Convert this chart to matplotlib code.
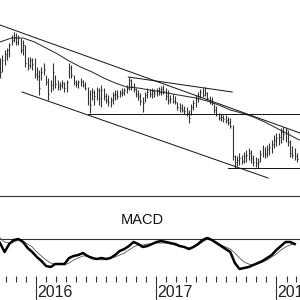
import matplotlib
matplotlib.use("Agg")
import matplotlib.pyplot as plt
import matplotlib.dates as mdates
import matplotlib.transforms as mtransforms
import pandas as pd

plt.rcParams["font.family"] = ["Liberation Sans", "DejaVu Sans"]

# weekly bars, first week
week_start = "2015-09-14"

high = [142, 145, 150, 152, 157, 165, 168, 167, 165, 162,
        160, 155, 143, 143, 142, 142, 133, 130, 133, 137,
        125, 122, 120, 137, 125, 120, 118, 120, 118, 120,
        137, 135, 125, 120, 120, 122, 120, 118, 113, 110,
        112, 110, 113, 112, 115, 112, 107, 105, 103, 108,
        110, 110, 110, 112, 112, 115, 123, 121, 117, 112,
        110, 107, 103, 108, 112, 111, 112, 111, 112, 113,
        114, 115, 112, 110, 105, 106, 104, 98, 97, 96,
        94, 93, 90, 96, 100, 105, 108, 111, 112, 113,
        108, 104, 103, 96, 94, 87, 86, 85, 85, 83,
        82, 75, 45, 44, 47, 45, 48, 50, 52, 50,
        45, 43, 42, 50, 55, 53, 55, 57, 60, 65,
        67, 67, 72, 73, 72, 70, 60, 54, 52, 47]
low = [122, 128, 135, 140, 143, 155, 158, 155, 155, 147,
       145, 133, 130, 132, 130, 122, 120, 105, 120, 125,
       115, 100, 108, 110, 112, 110, 110, 112, 108, 108,
       122, 122, 115, 113, 112, 114, 113, 110, 95, 87,
       100, 95, 100, 95, 93, 100, 97, 94, 93, 96,
       100, 101, 103, 104, 105, 107, 110, 110, 108, 103,
       100, 95, 88, 98, 102, 103, 102, 103, 104, 105,
       105, 106, 100, 96, 97, 97, 96, 90, 88, 88,
       86, 84, 77, 85, 90, 93, 98, 102, 103, 104,
       100, 96, 95, 87, 84, 80, 79, 78, 77, 75,
       72, 40, 32, 34, 35, 36, 37, 38, 40, 37,
       34, 33, 32, 38, 43, 42, 43, 45, 47, 52,
       54, 55, 57, 60, 58, 54, 43, 42, 40, 38]
close = [128, 140, 146, 150, 155, 160, 163, 158, 162, 150,
         155, 137, 135, 140, 136, 126, 124, 112, 128, 130,
         118, 106, 115, 128, 116, 114, 115, 117, 112, 118,
         132, 125, 118, 116, 118, 119, 115, 112, 100, 95,
         108, 104, 110, 102, 110, 104, 100, 98, 100, 105,
         106, 104, 107, 108, 110, 112, 120, 114, 111, 106,
         104, 99, 97, 105, 108, 106, 109, 107, 110, 108,
         111, 109, 104, 100, 101, 99, 98, 93, 92, 90,
         89, 87, 82, 93, 97, 102, 104, 108, 105, 107,
         102, 98, 97, 90, 86, 82, 83, 81, 80, 78,
         74, 44, 38, 40, 42, 39, 44, 45, 47, 42,
         38, 37, 38, 46, 50, 46, 51, 53, 56, 60,
         62, 63, 68, 66, 70, 58, 47, 45, 44, 41]

# long moving average, every 5 weeks
ma_values = [158, 162, 162, 158, 152, 146, 139, 133, 128, 122,
             117, 113, 112, 110, 108, 106, 104, 102, 99, 95,
             90, 87, 83, 78, 72, 66, 60]

# MACD and signal, every 2 weeks
macd_line = [-0.4, -1.3, -0.5, -0.1, 0.0, -0.3, -0.9, -1.3, -1.8, -2.2,
             -2.7, -2.8, -2.5, -2.5, -2.5, -1.9, -1.7, -1.6, -1.4, -1.7,
             -1.9, -2.0, -1.9, -2.0, -1.9, -1.6, -1.2, -1.0, -0.7, -0.3,
             -0.5, -0.8, -0.7, -0.5, -0.3, -0.2, -0.3, -0.4, -0.5, -0.7,
             -0.8, -1.0, -0.8, -0.5, -0.1, 0.1, -0.1, -0.4, -0.7, -1.0,
             -1.3, -2.4, -3.0, -2.9, -2.8, -2.6, -2.4, -2.2, -1.9, -1.6,
             -1.1, -0.7, -0.3, -0.3, -0.5]
signal_line = [0.1, -0.3, -0.4, -0.3, -0.1, -0.2, -0.5, -0.8, -1.3, -1.7,
               -2.1, -2.4, -2.5, -2.5, -2.6, -2.4, -2.1, -1.9, -1.7, -1.7,
               -1.8, -2.0, -2.1, -2.0, -1.9, -1.8, -1.6, -1.4, -1.1, -0.8,
               -0.6, -0.6, -0.5, -0.5, -0.4, -0.4, -0.4, -0.5, -0.6, -0.7,
               -0.8, -0.9, -0.8, -0.6, -0.3, 0.0, -0.1, -0.3, -0.6, -0.8,
               -1.0, -1.4, -1.9, -2.3, -2.5, -2.6, -2.5, -2.3, -2.1, -1.8,
               -1.5, -1.1, -0.8, -0.6, -0.5]

# trend lines drawn by the analyst
upper_channel = (["2015-09-14", "2018-03-14"], [175, 67])
lower_channel = (["2015-11-20", "2017-12-07"], [108, 22])
short_resistance = (["2016-10-08", "2017-08-20"], [123, 108])
support_upper = (["2016-06-08", "2018-06-01"], [86, 86])
support_lower = (["2017-08-08", "2018-06-01"], [32, 32])

years = ["2016", "2017", "2018"]

dates = pd.date_range(week_start, periods=len(high), freq="7D")
ma_dates = pd.date_range(week_start, periods=len(ma_values), freq="35D")
macd_dates = pd.date_range(week_start, periods=len(macd_line), freq="14D")

fig = plt.figure(figsize=(3, 3), dpi=100)
ax_price = fig.add_axes([0, 104 / 300, 1, 196 / 300])
ax_macd = fig.add_axes([0, 24 / 300, 1, 80 / 300])

x_left = pd.Timestamp("2015-09-14")
x_right = pd.Timestamp("2018-03-14")

# price panel
ax_price.vlines(dates, low, high, color="#333333", linewidth=0.8)
ax_price.hlines(close, dates, dates + pd.Timedelta(days=3), color="#333333", linewidth=0.8)
ax_price.plot(ma_dates, ma_values, color="#222222", linewidth=0.7)
for line_dates, line_prices in [upper_channel, lower_channel, short_resistance,
                                support_upper, support_lower]:
    ax_price.plot(pd.to_datetime(line_dates), line_prices, color="#111111", linewidth=0.7)
ax_price.set_xlim(x_left, x_right)
ax_price.set_ylim(4, 200)
ax_price.axis("off")

# MACD panel
ax_macd.axhline(0, color="#333333", linewidth=0.8)
ax_macd.plot(macd_dates, signal_line, color="#555555", linewidth=0.6)
ax_macd.plot(macd_dates, macd_line, color="black", linewidth=1.8)
ax_macd.set_xlim(x_left, x_right)
ax_macd.set_ylim(-3.7, 4.3)
ax_macd.text(0.473, 0.70, "MACD", transform=ax_macd.transAxes,
             ha="center", va="center", fontsize=10.5, color="#111111")

for side in ["left", "right", "bottom"]:
    ax_macd.spines[side].set_visible(False)
ax_macd.spines["top"].set_color("#333333")
ax_macd.spines["top"].set_linewidth(0.8)
ax_macd.set_yticks([])

ax_macd.xaxis.set_major_locator(mdates.YearLocator())
ax_macd.xaxis.set_minor_locator(mdates.MonthLocator())
ax_macd.xaxis.set_major_formatter(plt.NullFormatter())
ax_macd.tick_params(axis="x", which="major", length=20, width=0.8, color="#333333", direction="out")
ax_macd.tick_params(axis="x", which="minor", length=4.5, width=0.8, color="#333333", direction="out")

trans = mtransforms.blended_transform_factory(ax_macd.transData, ax_macd.transAxes)
for year in years:
    ax_macd.text(pd.Timestamp(f"{year}-01-01") + pd.Timedelta(days=3), -0.21, year,
                 transform=trans, ha="left", va="center", fontsize=11.5, color="#222222")

fig.savefig("out.png", dpi=100)
